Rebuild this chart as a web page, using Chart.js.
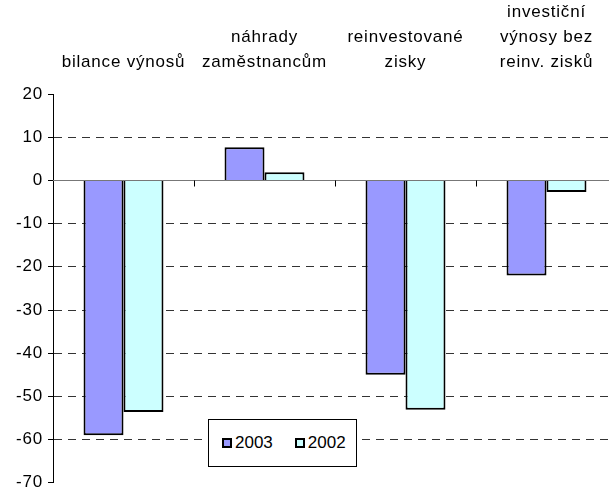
<!DOCTYPE html>
<html>
<head>
<meta charset="utf-8">
<script src="https://cdn.jsdelivr.net/npm/chart.js@4"></script>
<style>
  html, body { margin: 0; padding: 0; background: #fff; overflow: hidden; }
  #wrap { position: relative; width: 620px; height: 498px; }
  #legend { position: absolute; left: 208px; top: 419px; width: 147px; height: 46px;
    border: 1px solid #000; background: #fff; font-family: "Liberation Sans", Arial, sans-serif;
    font-size: 17px; color: #000; display: flex; align-items: center; }
  .item { display: flex; align-items: center; margin-left: 13px; }
  .item + .item { margin-left: 22px; }
  .sw { width: 6px; height: 6px; border: 2px solid #000; margin-right: 3px; }
</style>
</head>
<body>
<div id="wrap">
  <canvas id="c"></canvas>
  <div id="legend"></div>
</div>
<script>
const categories = [
  ["bilance výnosů"],
  ["náhrady", "zaměstnancům"],
  ["reinvestované", "zisky"],
  ["investiční", "výnosy bez", "reinv. zisků"]
];
const seriesNames = ["2003", "2002"];
const values2003 = [-59, 7.7, -45, -22];
const values2002 = [-53.6, 1.9, -53.1, -2.7];
const yTicks = [20, 10, 0, -10, -20, -30, -40, -50, -60, -70];
const colors = ["#9999FF", "#CCFFFF"];

const FONT = "'Liberation Sans', Arial, sans-serif";

const spacing = {
  id: 'spacing',
  beforeLayout(chart) { chart.ctx.letterSpacing = '0.8px'; },
  beforeDraw(chart) { chart.ctx.letterSpacing = '0.8px'; }
};

const zeroLine = {
  id: 'zeroLine',
  beforeDatasetsDraw(chart) {
    const {ctx, chartArea, scales: {x, y}} = chart;
    const y0 = Math.round(y.getPixelForValue(0)) + 0.5;
    ctx.save();
    ctx.strokeStyle = '#777';
    ctx.lineWidth = 1;
    ctx.beginPath();
    ctx.moveTo(chartArea.left, y0);
    ctx.lineTo(chartArea.right, y0);
    ctx.stroke();
    ctx.strokeStyle = '#000';
    for (let i = 0; i < categories.length - 1; i++) {
      const xp = Math.round(x.getPixelForValue(i + 0.5)) + 0.5;
      ctx.beginPath();
      ctx.moveTo(xp, y0);
      ctx.lineTo(xp, y0 + 6);
      ctx.stroke();
    }
    ctx.restore();
  }
};

const chart = new Chart(document.getElementById('c'), {
  type: 'bar',
  data: {
    labels: categories,
    datasets: [
      { label: seriesNames[0], data: values2003, backgroundColor: colors[0], borderColor: '#000', borderWidth: 2 },
      { label: seriesNames[1], data: values2002, backgroundColor: colors[1], borderColor: '#000', borderWidth: 2 }
    ]
  },
  options: {
    responsive: true,
    maintainAspectRatio: false,
    animation: false,
    layout: { padding: { left: 0, right: 3, top: 0, bottom: 12 } },
    datasets: { bar: { categoryPercentage: 0.567, barPercentage: 1.0 } },
    plugins: { legend: { display: false }, tooltip: { enabled: false } },
    scales: {
      x: {
        position: 'top',
        grid: { display: false, drawTicks: false },
        border: { display: false },
        ticks: { color: '#000', font: { family: FONT, size: 17, lineHeight: '25px' }, padding: 19, maxRotation: 0, autoSkip: false },
        afterFit(s) { s.height = 94; }
      },
      y: {
        min: -70, max: 20,
        afterBuildTicks(s) { s.ticks = yTicks.map(v => ({ value: v })); },
        grid: {
          color: c => (c.tick && [20, 0, -70].includes(c.tick.value)) ? 'rgba(0,0,0,0)' : '#333',
          tickColor: '#000',
          tickLength: 5,
          lineWidth: 1
        },
        border: { display: true, color: '#000', width: 1, dash: [8, 6] },
        ticks: { color: '#000', font: { family: FONT, size: 17 }, padding: 5 },
        afterFit(s) { s.width = 53; }
      }
    }
  },
  plugins: [spacing, zeroLine]
});

const lg = document.getElementById('legend');
seriesNames.forEach((n, i) => {
  const it = document.createElement('div'); it.className = 'item';
  const sw = document.createElement('div'); sw.className = 'sw'; sw.style.background = colors[i];
  const t = document.createElement('span'); t.textContent = n;
  it.appendChild(sw); it.appendChild(t); lg.appendChild(it);
});
</script>
</body>
</html>
